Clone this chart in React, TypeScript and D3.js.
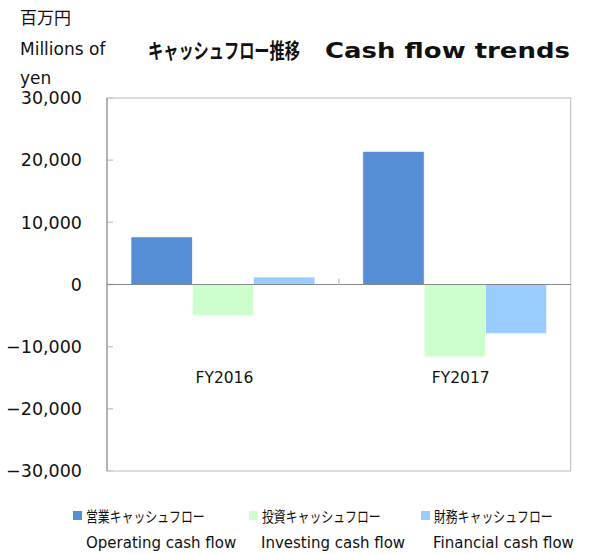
import React, { useEffect, useRef } from 'react';
import * as d3 from 'd3';

const years = ['FY2016', 'FY2017'];
const seriesJa = ['営業キャッシュフロー', '投資キャッシュフロー', '財務キャッシュフロー'];
const seriesEn = ['Operating cash flow', 'Investing cash flow', 'Financial cash flow'];
const operating = [7650, 21400];
const investing = [-5000, -11650];
const financial = [1200, -7900];
const yTicks = [-30000, -20000, -10000, 0, 10000, 20000, 30000];
const colors = ['#558ED5', '#CCFFCC', '#99CCFF'];

const App = () => {
    const svgRef = useRef<SVGSVGElement>(null);

    useEffect(() => {
        const width = 590;
        const height = 554;
        const left = 107, right = 570.7, top = 98, bottom = 471;
        const font = '"DejaVu Sans", "Noto Sans CJK JP", sans-serif';

        const svg = d3.select(svgRef.current)
            .attr('width', width)
            .attr('height', height)
            .style('font-family', font);
        svg.selectAll('*').remove();

        const values = [operating, investing, financial];

        const y = d3.scaleLinear().domain([-30000, 30000]).range([bottom, top]);
        const x0 = d3.scaleBand().domain(years).range([left, right]).padding(0);
        const gap = x0.bandwidth() * 0.1035;
        const x1 = d3.scaleBand().domain(d3.range(3).map(String)).range([gap, x0.bandwidth() - gap]).padding(0);

        // frame
        svg.append('rect')
            .attr('x', left).attr('y', top)
            .attr('width', right - left).attr('height', bottom - top)
            .attr('fill', 'none').attr('stroke', '#bbbbbb').attr('stroke-width', 1);

        // tick marks
        svg.selectAll('.ytick')
            .data(yTicks)
            .enter()
            .append('line')
            .attr('x1', left).attr('x2', left + 6)
            .attr('y1', d => y(d)).attr('y2', d => y(d))
            .attr('stroke', '#cccccc').attr('stroke-width', 1.5);

        svg.selectAll('.ylab')
            .data(yTicks)
            .enter()
            .append('text')
            .attr('x', 82)
            .attr('y', d => y(d))
            .attr('dy', '0.36em')
            .attr('text-anchor', 'end')
            .style('font-size', '17.5px')
            .attr('fill', '#111')
            .text(d => d3.format(',')(d));

        // bars
        years.forEach((yr, i) => {
            values.forEach((vals, s) => {
                const v = vals[i];
                svg.append('rect')
                    .attr('x', x0(yr)! + x1(String(s))!)
                    .attr('y', y(Math.max(0, v)))
                    .attr('width', x1.bandwidth())
                    .attr('height', Math.abs(y(v) - y(0)))
                    .attr('fill', colors[s])
                    .attr('stroke', '#ffffff')
                    .attr('stroke-width', 0.6);
            });
        });

        // zero line + axis
        svg.append('line')
            .attr('x1', left).attr('x2', right)
            .attr('y1', y(0)).attr('y2', y(0))
            .attr('stroke', '#888888').attr('stroke-width', 1);
        svg.append('line')
            .attr('x1', left).attr('x2', left)
            .attr('y1', top).attr('y2', bottom)
            .attr('stroke', '#888888').attr('stroke-width', 1);
        svg.append('line')
            .attr('x1', x0('FY2017')!).attr('x2', x0('FY2017')!)
            .attr('y1', y(0) - 6).attr('y2', y(0))
            .attr('stroke', '#cccccc').attr('stroke-width', 1.5);

        // category labels
        const labelShift = [1.5, 6];
        svg.selectAll('.xlab')
            .data(years)
            .enter()
            .append('text')
            .attr('x', (d, i) => x0(d)! + x0.bandwidth() / 2 + labelShift[i])
            .attr('y', 383)
            .attr('text-anchor', 'middle')
            .style('font-size', '15.5px')
            .attr('fill', '#111')
            .text(d => d);

        // unit
        [['百万円', 24], ['Millions of', 55], ['yen', 84]].forEach(([t, yy]) => {
            svg.append('text')
                .attr('x', 20).attr('y', yy as number)
                .style('font-size', '17px')
                .attr('fill', '#111')
                .text(t as string);
        });

        // title
        svg.append('text')
            .attr('x', 148).attr('y', 58)
            .style('font-size', '19px')
            .style('font-weight', 'bold')
            .attr('fill', '#111')
            .attr('transform', 'translate(148,58) scale(0.8,1.1) translate(-148,-58)')
            .text('キャッシュフロー推移');
        svg.append('text')
            .attr('x', 325).attr('y', 58)
            .style('font-size', '22px')
            .style('font-weight', 'bold')
            .attr('fill', '#111')
            .attr('textLength', 245)
            .attr('lengthAdjust', 'spacingAndGlyphs')
            .text('Cash flow trends');

        // legend
        const legX = [73, 249, 421];
        const legEnX = [86, 261, 433];
        seriesJa.forEach((s, i) => {
            svg.append('rect')
                .attr('x', legX[i]).attr('y', 511)
                .attr('width', 9).attr('height', 9)
                .attr('fill', colors[i]);
            svg.append('text')
                .attr('x', legX[i] + 13).attr('y', 522)
                .style('font-size', '12.5px')
                .attr('fill', '#111')
                .attr('transform', `translate(${legX[i] + 13},522) scale(0.95,1.2) translate(${-(legX[i] + 13)},-522)`)
                .text(s);
            svg.append('text')
                .attr('x', legEnX[i]).attr('y', 548)
                .style('font-size', '15px')
                .attr('fill', '#111')
                .text(seriesEn[i]);
        });
    });

    return <svg ref={svgRef} style={{ position: 'absolute', left: 0, top: 0 }}></svg>;
};

export default App;
